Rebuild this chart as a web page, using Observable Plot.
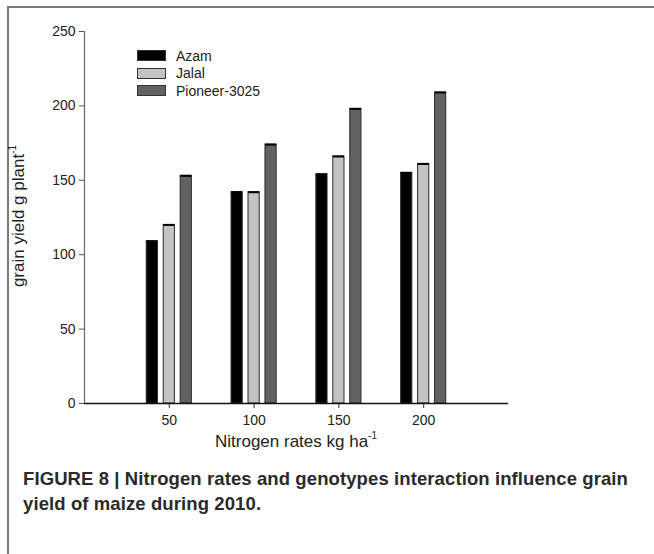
<!DOCTYPE html>
<html>
<head>
<meta charset="utf-8">
<script src="https://cdn.jsdelivr.net/npm/d3@7"></script>
<script src="https://cdn.jsdelivr.net/npm/@observablehq/plot@0.6"></script>
<style>
  html, body { margin: 0; padding: 0; background: #fff; }
  body { font-family: "Liberation Sans", Arial, sans-serif; color: #222; }
  #fig { position: relative; width: 654px; height: 554px; overflow: hidden; }
  #frame { position: absolute; left: 7px; top: 6px; width: 700px; height: 600px;
           border-left: 2px solid #7a7a7a; border-top: 2px solid #7a7a7a; }
  #chart { position: absolute; left: 0; top: 0; }
  .legend { position: absolute; left: 137px; top: 47px; font-size: 14px; }
  .legend .row { display: flex; align-items: center; height: 17.5px; }
  .legend .sw { width: 27px; height: 9px; border: 1px solid #333; margin-right: 10px; }
  .xtitle { position: absolute; left: 296px; top: 432px; transform: translateX(-50%);
            font-size: 17px; white-space: nowrap; }
  .ytitle { position: absolute; left: 19px; top: 216px; transform: translate(-50%, -50%) rotate(-90deg);
            font-size: 17px; white-space: nowrap; }
  sup { font-size: 10px; vertical-align: 8px; line-height: 0; }
  .caption { position: absolute; left: 23px; top: 466px; width: 625px; font-weight: bold;
             font-size: 18.5px; letter-spacing: 0.1px; line-height: 25px; color: #2a2a2a; }
</style>
</head>
<body>
<div id="fig">
  <div id="frame"></div>
  <div id="chart"></div>
  <div class="legend" id="legend"></div>
  <div class="xtitle">Nitrogen rates kg ha<sup>-1</sup></div>
  <div class="ytitle">grain yield g plant<sup>-1</sup></div>
  <div class="caption">FIGURE 8 | Nitrogen rates and genotypes interaction influence grain yield of maize during 2010.</div>
</div>
<script>
const rates = [50, 100, 150, 200];
const genotypes = ["Azam", "Jalal", "Pioneer-3025"];
const azam = [109, 142, 154, 155];
const jalal = [120, 142, 166, 161];
const pioneer = [153, 174, 198, 209];
const yTicks = [0, 50, 100, 150, 200, 250];
const xTicks = [50, 100, 150, 200];

const colors = {"Azam": "#000000", "Jalal": "#c4c4c4", "Pioneer-3025": "#626262"};
const offsets = {"Azam": -10, "Jalal": 0, "Pioneer-3025": 10};
const halfW = 3.3;

const series = [azam, jalal, pioneer];
const data = [];
genotypes.forEach((g, gi) => rates.forEach((r, ri) => data.push({rate: r, genotype: g, value: series[gi][ri]})));

const chart = Plot.plot({
  width: 654,
  height: 460,
  marginLeft: 84,
  marginRight: 146,
  marginTop: 31,
  marginBottom: 57,
  style: {fontFamily: "Liberation Sans, Arial, sans-serif", fontSize: "14px", color: "#222", background: "transparent"},
  x: {domain: [0, 250], label: null},
  y: {domain: [0, 250], label: null},
  color: {domain: genotypes, range: genotypes.map(g => colors[g])},
  marks: [
    Plot.rectY(data, {
      x1: d => d.rate + offsets[d.genotype] - halfW,
      x2: d => d.rate + offsets[d.genotype] + halfW,
      y1: 0, y2: "value",
      fill: "genotype", stroke: "#2a2a2a", strokeWidth: 1
    }),
    Plot.ruleY(data, {
      x1: d => d.rate + offsets[d.genotype] - halfW,
      x2: d => d.rate + offsets[d.genotype] + halfW,
      y: "value", stroke: "#000", strokeWidth: 2
    }),
    Plot.axisY({ticks: yTicks, tickSize: 5, tickPadding: 4, label: null, stroke: "#555"}),
    Plot.axisX({ticks: xTicks, tickSize: 5, tickPadding: 7, label: null, stroke: "#333"}),
    Plot.ruleX([0], {stroke: "#666", strokeWidth: 1.2}),
    Plot.ruleY([0], {stroke: "#111", strokeWidth: 1.5})
  ]
});
document.getElementById("chart").appendChild(chart);

const legend = document.getElementById("legend");
genotypes.forEach(g => {
  const row = document.createElement("div");
  row.className = "row";
  const sw = document.createElement("div");
  sw.className = "sw";
  sw.style.background = colors[g];
  const lab = document.createElement("span");
  lab.textContent = g;
  row.appendChild(sw); row.appendChild(lab);
  legend.appendChild(row);
});
</script>
</body>
</html>
